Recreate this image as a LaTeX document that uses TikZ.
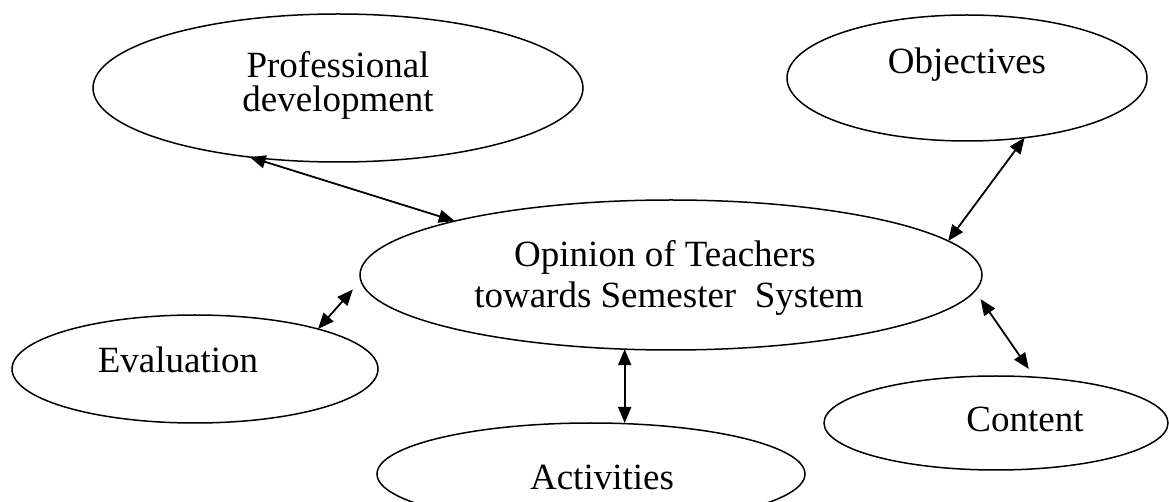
\documentclass[tikz,border=0pt]{standalone}
\usepackage{fontspec}
\setmainfont{Liberation Serif}
\usepackage{tikz}
\usetikzlibrary{arrows.meta, shapes.geometric}

\begin{document}
\begin{tikzpicture}[x=0.5pt, y=-0.5pt,
    bubble/.style={ellipse, draw, line width=0.75pt, inner sep=0pt, outer sep=0pt},
    txt/.style={anchor=base, inner sep=0pt, font=\fontsize{18.5}{22}\selectfont},
    link/.style={{Triangle[length=8pt,width=6.5pt]}-{Triangle[length=8pt,width=6.5pt]}, line width=0.9pt}]
    \useasboundingbox (0,0) rectangle (1169,502);

    % the bubbles
    \node[bubble, minimum width=311pt, minimum height=75pt] (opinion) at (671,275) {};
    \node[bubble, minimum width=245pt, minimum height=74pt] (prof) at (338,88) {};
    \node[bubble, minimum width=180pt, minimum height=63pt] (obj) at (967,78) {};
    \node[bubble, minimum width=183pt, minimum height=54pt] (eval) at (195,369) {};
    \node[bubble, minimum width=172pt, minimum height=47pt] (content) at (996,423) {};
    \node[bubble, minimum width=214pt, minimum height=51pt] (act) at (591,474) {};

    % their texts
    \node[txt] (opinion1) at (665,267) {Opinion of Teachers};
    \node[txt] (opinion2) at (669,308) {towards Semester\ \ System};
    \node[txt] (prof1) at (338,78) {Professional};
    \node[txt] (prof2) at (338,112) {development};
    \node[txt] (obj1) at (967,74) {Objectives};
    \node[txt] (eval1) at (178,373) {Evaluation};
    \node[txt] (content1) at (1025,432) {Content};
    \node[txt] (act1) at (602,490) {Activities};

    % two-way links
    \draw[link] (prof.218) -- (opinion.166);
    \draw[link] (obj.314) -- (opinion.7);
    \draw[link, shorten >=6pt] (eval.18) -- (opinion.181.7);
    \draw[link] (opinion.238) -- (opinion.238 |- act.north);
    \draw[link, shorten <=5pt, shorten >=5pt] (opinion.357.8) -- (content.50);
\end{tikzpicture}
\end{document}
